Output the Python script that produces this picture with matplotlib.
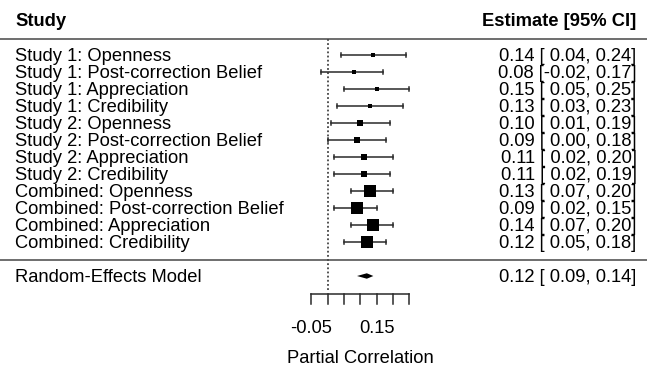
import matplotlib
matplotlib.use("Agg")
import matplotlib.pyplot as plt
from matplotlib.patches import Polygon

plt.rcParams['font.family'] = ['Liberation Sans', 'DejaVu Sans']

# ---- data ----
labels = [
    "Study 1: Openness", "Study 1: Post-correction Belief",
    "Study 1: Appreciation", "Study 1: Credibility",
    "Study 2: Openness", "Study 2: Post-correction Belief",
    "Study 2: Appreciation", "Study 2: Credibility",
    "Combined: Openness", "Combined: Post-correction Belief",
    "Combined: Appreciation", "Combined: Credibility",
]
estimates = [0.14, 0.08, 0.15, 0.13, 0.10, 0.09, 0.11, 0.11, 0.13, 0.09, 0.14, 0.12]
ci_low = [0.04, -0.02, 0.05, 0.03, 0.01, 0.00, 0.02, 0.02, 0.07, 0.02, 0.07, 0.05]
ci_high = [0.24, 0.17, 0.25, 0.23, 0.19, 0.18, 0.20, 0.19, 0.20, 0.15, 0.20, 0.18]

re_label = "Random-Effects Model"
re_est, re_low, re_high = 0.12, 0.09, 0.14

x_ticks = [-0.05, 0.0, 0.05, 0.10, 0.15, 0.20, 0.25]
x_ticklabels = {-0.05: "-0.05", 0.15: "0.15"}

# box sizes (pixels) as drawn by the forest plot
box_px = [4.3, 4.3, 4.7, 4.3, 5.7, 5.7, 5.7, 5.7, 12, 12, 12, 11.7]

# ---- layout (pixel geometry of the 647x366 canvas) ----
W, H = 647, 366
X0_PX, PX_PER_UNIT = 327.7, 326.0      # x=0 position and scale
ROW0_PX, ROW_PX = 55.0, 17.0            # first row and row spacing
FS = 13.2
BASE = 0.335                            # text baseline offset below row centre


def fx(px):
    return px / W


def row(px):
    return (px - ROW0_PX) / ROW_PX


fig = plt.figure(figsize=(W / 100, H / 100), dpi=100)
ax = fig.add_axes([0, 0, 1, 1])
ax.set_xlim(-X0_PX / PX_PER_UNIT, (W - X0_PX) / PX_PER_UNIT)
ax.set_ylim(row(H), row(0))
ax.axis('off')
yt = ax.get_yaxis_transform()   # x in figure fraction, y in rows

n = len(labels)
rows = list(range(n))
re_row = n + 1

# header
ax.text(fx(15), row(26), "Study", transform=yt, fontsize=FS, fontweight='bold',
        ha='left', va='baseline')
ax.text(fx(636.5), row(26), "Estimate [95% CI]", transform=yt, fontsize=FS,
        fontweight='bold', ha='right', va='baseline')
ax.axhline(row(38.5), color='#555555', lw=1.2)
ax.axhline(row(259.8), color='#555555', lw=1.2)

# reference line at zero
ax.plot([0, 0], [row(38.5), row(291)], color='#444444', lw=1.3,
        ls=(0, (1, 1.3)))


def fmt(e, lo, hi):
    def s(v):
        return f"{v:.2f}" if v < 0 else f" {v:.2f}"
    return f"{e:.2f} [{s(lo)},{s(hi)}]"


cap = 0.12
lc = '#2a2a2a'
for r, lab, e, lo, hi, b in zip(rows, labels, estimates, ci_low, ci_high, box_px):
    ax.plot([lo, hi], [r, r], color=lc, lw=1.1)
    ax.plot([lo, lo], [r - cap, r + cap], color=lc, lw=1.1)
    ax.plot([hi, hi], [r - cap, r + cap], color=lc, lw=1.1)
    ax.plot(e, r, marker='s', color='black', ms=b * 0.72, mew=0)
    ax.text(fx(15), r + BASE, lab, transform=yt, fontsize=FS, ha='left',
            va='baseline')
    ax.text(fx(636.5), r + BASE, fmt(e, lo, hi), transform=yt, fontsize=FS,
            ha='right', va='baseline')

# summary diamond
dh = 0.16
ax.add_patch(Polygon([[re_low, re_row], [re_est, re_row - dh],
                      [re_high, re_row], [re_est, re_row + dh]],
                     closed=True, color='black', lw=0))
ax.text(fx(15), re_row + BASE, re_label, transform=yt, fontsize=FS, ha='left',
        va='baseline')
ax.text(fx(636.5), re_row + BASE, fmt(re_est, re_low, re_high), transform=yt,
        fontsize=FS, ha='right', va='baseline')

# x axis drawn by hand, forest-plot style
axis_y = row(294)
tick_end = row(304)
ax.plot([x_ticks[0], x_ticks[-1]], [axis_y, axis_y], color=lc, lw=1.1)
for t in x_ticks:
    ax.plot([t, t], [axis_y, tick_end], color=lc, lw=1.1)
    if t in x_ticklabels:
        ax.text(t, row(332.7), x_ticklabels[t], fontsize=FS, ha='center',
                va='baseline')
ax.text((x_ticks[0] + x_ticks[-1]) / 2, row(363.3), "Partial Correlation",
        fontsize=FS, ha='center', va='baseline')

fig.savefig("out.png", dpi=100)
